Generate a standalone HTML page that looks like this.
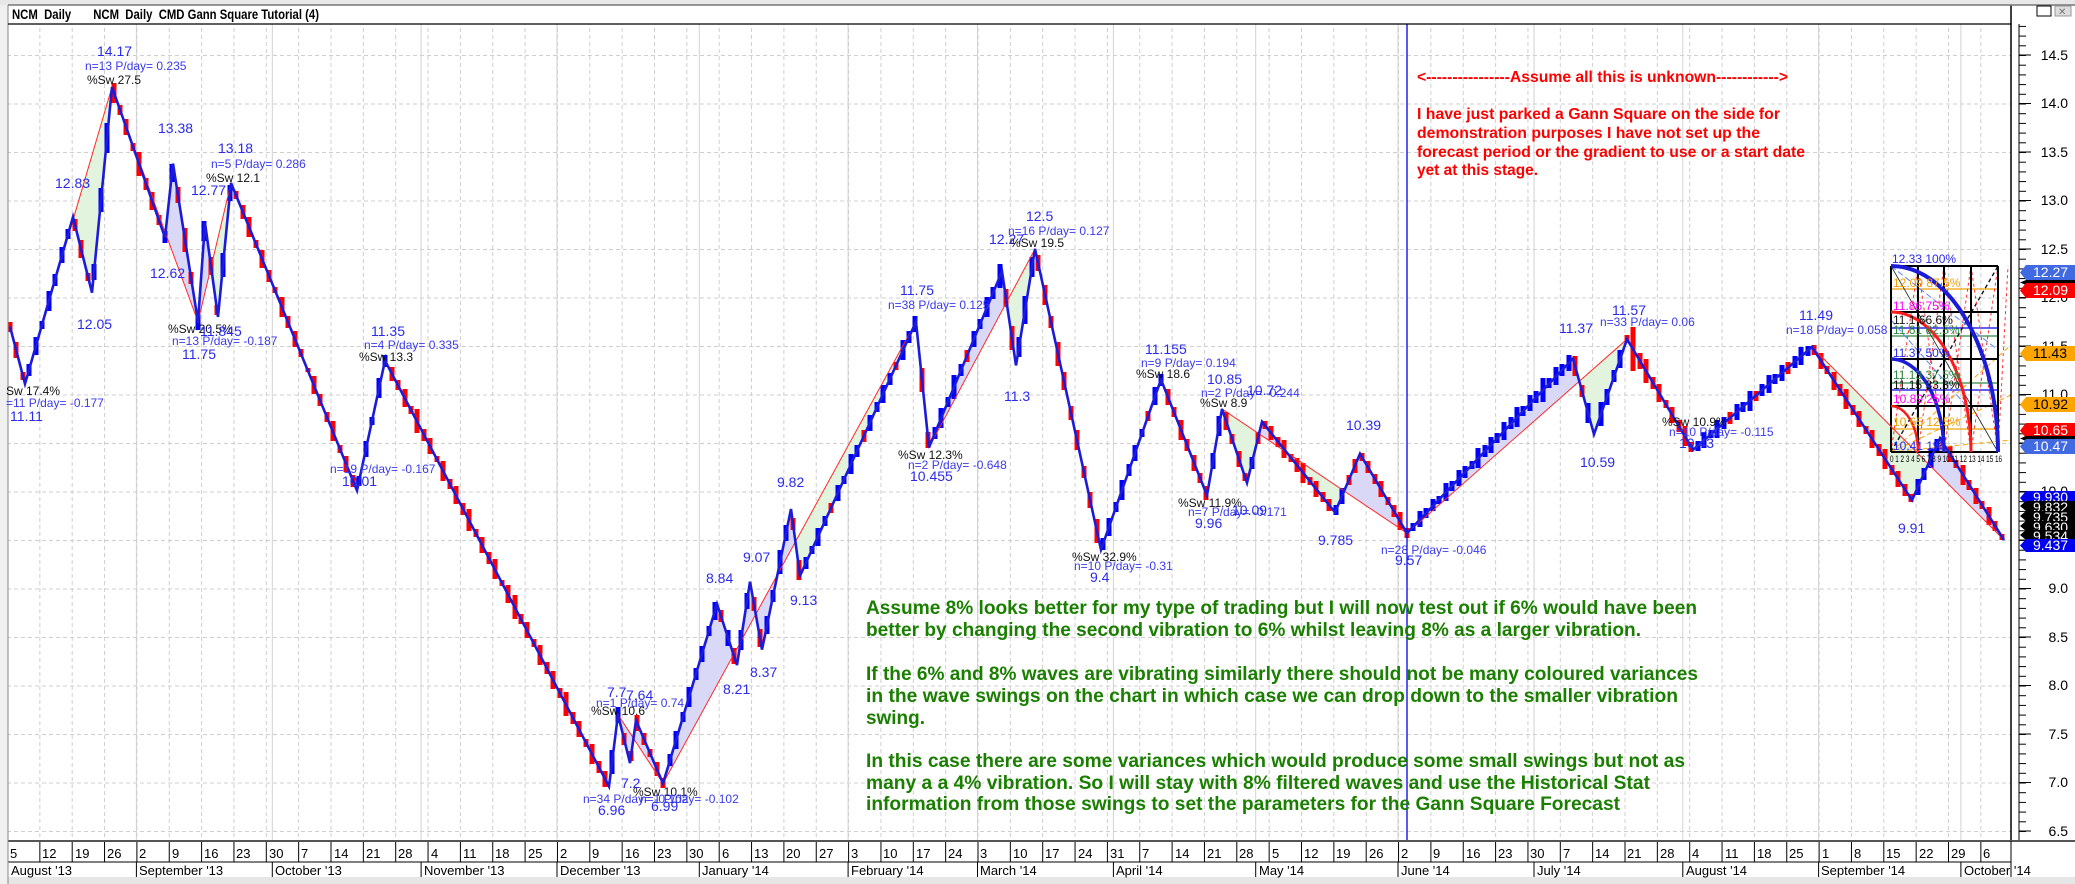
<!DOCTYPE html>
<html><head><meta charset="utf-8"><style>
html,body{margin:0;padding:0;background:#fff;}
svg{display:block;font-family:"Liberation Sans",sans-serif;}
.pl{fill:#2a2aee;font-size:14px;}
.nl{fill:#3a3aee;font-size:12px;}
.sl{fill:#111;font-size:12px;}
.ax{fill:#000;font-size:14px;}
.rt{fill:#ff0000;font-size:16px;font-weight:bold;}
.gt{fill:#1a7f00;font-size:19px;font-weight:bold;}
.gs{font-size:12px;}
.dt{font-size:13px;fill:#000;}
</style></head><body>
<svg width="2075" height="884" viewBox="0 0 2075 884" xmlns="http://www.w3.org/2000/svg">
<defs>
<pattern id="hg" patternUnits="userSpaceOnUse" width="7" height="48.5" patternTransform="translate(0,55)"><rect x="0" y="0" width="4" height="1" fill="#cfcfcf"/></pattern>
<pattern id="vg" patternUnits="userSpaceOnUse" width="32.35" height="7" patternTransform="translate(7,0)"><rect x="0" y="0" width="1" height="4" fill="#cfcfcf"/></pattern>
<pattern id="wt" patternUnits="userSpaceOnUse" width="32.35" height="30" patternTransform="translate(7,0)"><rect x="0" y="0" width="1" height="30" fill="#000"/></pattern>
<pattern id="mt" patternUnits="userSpaceOnUse" width="20" height="9.7" patternTransform="translate(0,55)"><rect x="0" y="0" width="20" height="1" fill="#000"/></pattern>
</defs>
<rect width="2075" height="884" fill="#fff"/>
<rect x="0" y="0" width="2075" height="5" fill="#e8e8e8"/>
<!-- grid -->
<rect x="8" y="24" width="2003" height="817" fill="url(#hg)"/>
<rect x="36" y="24" width="1975" height="817" fill="url(#vg)"/>
<g stroke="#d2d2d2" stroke-width="1">
<line x1="136.4" y1="24" x2="136.4" y2="841"/><line x1="272.3" y1="24" x2="272.3" y2="841"/><line x1="421.1" y1="24" x2="421.1" y2="841"/><line x1="557" y1="24" x2="557" y2="841"/><line x1="699.3" y1="24" x2="699.3" y2="841"/><line x1="848.1" y1="24" x2="848.1" y2="841"/><line x1="977.5" y1="24" x2="977.5" y2="841"/><line x1="1113.4" y1="24" x2="1113.4" y2="841"/><line x1="1255.7" y1="24" x2="1255.7" y2="841"/><line x1="1398" y1="24" x2="1398" y2="841"/><line x1="1534" y1="24" x2="1534" y2="841"/><line x1="1682.8" y1="24" x2="1682.8" y2="841"/><line x1="1818.6" y1="24" x2="1818.6" y2="841"/><line x1="1960.9" y1="24" x2="1960.9" y2="841"/>
</g>
<!-- fills -->
<g>
<polygon points="73,217 92,292.7 112,87" fill="#e2f4de"/>
<polygon points="112,87 165,237.4 173,163.6 198,321.8" fill="#d9d9f7"/>
<polygon points="198,321.8 205,222.8 211,267" fill="#d9d9f7"/>
<polygon points="211,267 218,316.9 231,183" fill="#e2f4de"/>
<polygon points="618,714.6 630,763.1 636,720.4 663,783.5" fill="#d9d9f7"/>
<polygon points="663,783.5 717,604 737,665.1 750,581.7 762,649.6 791,509 800,575.9 916,321.8" fill="#d9d9f7"/>
<polygon points="795,543 800,575.9 916,321.8" fill="#e2f4de"/>
<polygon points="929,447.4 1002,271.3 1006.6,302.2" fill="#d9d9f7"/>
<polygon points="1006.6,302.2 1016,365.4 1035,249" fill="#e2f4de"/>
<polygon points="1222,409 1247,482.8 1259,433.9" fill="#e2f4de"/>
<polygon points="1259,433.9 1262,421.7 1286.7,452.4" fill="#d9d9f7"/>
<polygon points="1286.7,452.4 1335,512.4 1344.1,491" fill="#e2f4de"/>
<polygon points="1344.1,491 1360,453.7 1407,533.2" fill="#d9d9f7"/>
<polygon points="1407,533.2 1573,358.6 1579.3,381.3" fill="#d9d9f7"/>
<polygon points="1579.3,381.3 1594,434.3 1627,339.2" fill="#e2f4de"/>
<polygon points="1812,347 1912,500.2 1928.4,464" fill="#e2f4de"/>
<polygon points="1928.4,464 1940,438.2 2004,540" fill="#d9d9f7"/>
</g>
<!-- candles -->
<path fill="none" stroke="#ff0000" stroke-width="5" d="M10 322V332M16 342V358M23 372V380M75 219V231M81 240V258M88 273V281M114 83V103M120 105V115M126 119V135M133 143V151M139 152V176M146 178V190M152 192V210M159 215V225M178 187V203M185 228V252M191 272V284M211 257V275M217 305V315M236 191V199M243 205V219M249 217V237M256 240V248M262 250V268M269 270V282M275 287V293M282 297V317M288 316V328M295 331V347M301 349V357M308 368V372M314 376V394M320 394V406M327 412V422M333 421V441M340 445V453M346 456V472M353 475V487M392 367V381M398 380V390M405 389V407M411 406V414M417 409V433M424 429V441M430 438V454M437 456V462M443 461V481M450 479V489M456 486V504M463 503V515M469 509V531M476 529V537M482 537V553M489 552V564M495 559V579M502 580V586M508 585V603M515 595V619M521 614V624M527 622V638M534 639V647M540 645V665M547 662V674M553 671V689M560 688V698M566 692V716M573 712V724M579 721V737M586 739V747M592 744V764M599 761V773M605 771V787M624 733V745M631 751V761M637 715V731M644 733V745M650 749V757M657 762V776M663 778V788M721 610V622M734 648V664M754 597V611M760 629V647M793 518V530M799 560V580M831 503V513M864 430V442M896 362V370M922 368V392M928 432V448M967 350V362M1006 289V307M1012 326V350M1038 255V271M1045 285V305M1051 316V328M1058 342V366M1064 372V390M1071 406V420M1077 430V450M1084 466V478M1090 492V508M1097 519V543M1148 411V421M1168 389V405M1174 407V417M1181 420V440M1187 439V451M1194 455V471M1200 473V483M1206 486V500M1226 412V430M1232 434V444M1239 451V467M1245 473V481M1258 432V444M1265 421V429M1271 426V440M1278 437V447M1284 440V458M1291 454V462M1297 458V472M1303 463V483M1310 477V485M1316 481V497M1323 492V502M1329 499V511M1349 475V485M1355 459V473M1362 453V461M1368 461V473M1375 474V484M1381 481V497M1388 497V505M1394 505V517M1400 512V530M1407 528V538M1575 356V376M1582 385V397M1627 335V343M1633 327V371M1640 353V369M1646 359V383M1653 377V389M1659 384V402M1666 400V408M1672 407V423M1679 420V432M1685 426V446M1691 442V452M1730 412V424M1756 391V401M1788 362V374M1814 345V355M1821 353V369M1827 366V374M1834 372V390M1840 384V396M1846 389V409M1853 405V415M1859 411V427M1866 426V434M1872 430V448M1879 444V456M1885 449V469M1892 465V475M1898 471V487M1905 484V496M1911 494V502M1943 437V449M1950 446V462M1956 460V468M1963 465V485M1969 480V490M1976 488V504M1982 501V509M1989 507V525M1995 521V531M2002 534V540"/>
<path fill="none" stroke="#0000ff" stroke-width="5" d="M29 364V376M36 337V355M42 321V329M49 291V311M55 274V286M62 247V263M68 229V239M94 264V280M101 188V212M107 123V153M165 231V243M172 164V182M198 314V330M204 221V241M223 253V277M230 185V201M359 476V486M366 441V457M372 417V425M379 378V398M385 355V367M612 750V774M618 707V723M670 754V766M676 731V749M683 712V722M689 687V707M696 668V680M702 646V662M709 626V636M715 602V620M728 630V646M741 630V650M747 593V609M767 616V634M773 590V602M780 550V574M786 525V541M806 557V569M812 546V554M818 528V546M825 516V526M838 485V501M844 476V484M851 454V474M857 445V457M870 415V431M877 402V412M883 385V403M890 373V385M903 340V360M909 331V343M915 316V332M935 427V439M941 408V428M948 397V407M954 375V399M961 364V376M974 331V347M980 319V329M987 297V317M993 287V299M1000 264V288M1019 337V357M1025 296V324M1032 257V277M1103 538V550M1109 518V536M1116 502V512M1122 480V500M1129 464V476M1135 445V461M1142 429V437M1155 387V405M1161 374V386M1213 453V469M1219 416V436M1252 457V469M1336 505V515M1342 488V504M1413 523V531M1420 511V527M1426 508V518M1433 499V511M1439 496V504M1446 483V501M1452 481V491M1459 470V486M1465 466V478M1472 461V469M1478 448V468M1485 445V457M1491 437V453M1497 433V443M1504 422V440M1511 417V429M1517 407V427M1523 406V416M1530 395V411M1536 391V403M1543 378V402M1549 378V388M1556 367V385M1562 364V376M1569 355V371M1588 403V423M1601 402V426M1607 389V405M1614 370V382M1620 350V368M1698 441V451M1704 432V448M1711 430V438M1717 420V438M1724 417V429M1737 404V420M1743 402V412M1750 391V411M1762 384V396M1769 375V393M1775 374V384M1782 365V381M1795 356V368M1801 347V365M1808 346V356M1918 479V495M1924 468V480M1931 448V468M1937 439V451"/>
<line x1="1407" y1="24" x2="1407" y2="841" stroke="#0000ee" stroke-width="1.3"/>
<!-- gann -->
<g>
<g stroke-width="1.2">
<line x1="1891" x2="1998" y1="289" y2="289" stroke="#f0a000"/><line x1="1891" x2="1998" y1="328" y2="328" stroke="#0000ee"/><line x1="1891" x2="1998" y1="336" y2="336" stroke="#2a8a40"/><line x1="1891" x2="1998" y1="383" y2="383" stroke="#2a8a40"/><line x1="1891" x2="1998" y1="390" y2="390" stroke="#0000ee"/><line x1="1891" x2="1998" y1="429" y2="429" stroke="#f0a000"/>
</g>
<line x1="1891" y1="266" x2="1998" y2="452" stroke="#222" stroke-width="0.8"/>
<line x1="1891" y1="452" x2="1998" y2="266" stroke="#111" stroke-width="1.4" stroke-dasharray="4,3"/>
<g stroke="#ff3030" stroke-dasharray="3,3"><line x1="1891" y1="452" x2="1918" y2="266"/><line x1="1918" y1="452" x2="1944" y2="266"/><line x1="1944" y1="452" x2="1971" y2="266"/><line x1="1971" y1="452" x2="1998" y2="266"/><line x1="1918" y1="266" x2="1944" y2="452"/><line x1="1944" y1="266" x2="1971" y2="452"/><line x1="1971" y1="266" x2="1998" y2="452"/><line x1="1998" y1="452" x2="2008" y2="266"/></g>
<g stroke="#ffa500" stroke-dasharray="5,3"><line x1="1891" y1="452" x2="2011" y2="395"/><line x1="1891" y1="452" x2="2011" y2="345"/><line x1="1891" y1="452" x2="2011" y2="440"/></g>
<g stroke="#6080ff" stroke-dasharray="6,3"><line x1="1891" y1="266" x2="1998" y2="350"/><line x1="1891" y1="320" x2="1970" y2="410"/></g>
<g stroke="#000" stroke-width="2"><line x1="1891" x2="1891" y1="266" y2="452"/><line x1="1918" x2="1918" y1="266" y2="452"/><line x1="1944" x2="1944" y1="266" y2="452"/><line x1="1971" x2="1971" y1="266" y2="452"/><line x1="1998" x2="1998" y1="266" y2="452"/>
<line x1="1891" x2="1998" y1="266" y2="266"/><line x1="1891" x2="1998" y1="312" y2="312"/><line x1="1891" x2="1998" y1="359" y2="359"/><line x1="1891" x2="1998" y1="406" y2="406"/><line x1="1891" x2="1998" y1="452" y2="452"/></g>
<path d="M1891 266 A107 186 0 0 1 1998 452" fill="none" stroke="#1c1cd8" stroke-width="4"/>
<path d="M1891 312 A80 140 0 0 1 1971 452" fill="none" stroke="#ff1a1a" stroke-width="3"/>
<path d="M1891 359 A53 93 0 0 1 1944 452" fill="none" stroke="#1c1cd8" stroke-width="3.5"/>
<path d="M1891 406 A27 46 0 0 1 1918 452" fill="none" stroke="#ff1a1a" stroke-width="2.5"/>
</g>
<!-- swing lines -->
<polyline fill="none" stroke="#ff2a2a" stroke-width="1" points="10,326.6 25,383.8 112,87 198,321.8 231,183 357,490.5 385,360.6 609,786.4 618,714.6 663,783.5 916,321.8 929,447.4 1035,249 1101,549.7 1161,379.5 1207,495.4 1222,409 1407,533.2 1627,339.2 1693,449.8 1812,347 2004,540"/>
<polyline fill="none" stroke="#1c1cd8" stroke-width="2.6" points="10,326.6 25,383.8 73,217 92,292.7 112,87 165,237.4 173,163.6 198,321.8 205,222.8 218,316.9 231,183 357,490.5 385,360.6 609,786.4 618,714.6 630,763.1 636,720.4 663,783.5 717,604 737,665.1 750,581.7 762,649.6 791,509 800,575.9 916,321.8 929,447.4 1002,271.3 1016,365.4 1035,249 1101,549.7 1161,379.5 1207,495.4 1222,409 1247,482.8 1262,421.7 1335,512.4 1360,453.7 1407,533.2 1573,358.6 1594,434.3 1627,339.2 1693,449.8 1812,347 1912,500.2 1940,438.2 2004,540"/>
<!-- price axis -->
<rect x="2011" y="5" width="64" height="836" fill="#fff"/>
<line x1="2011" y1="5" x2="2011" y2="841" stroke="#000" stroke-width="1.5"/>
<line x1="2019" y1="24" x2="2019" y2="841" stroke="#000"/>
<rect x="2019" y="24" width="7" height="817" fill="url(#mt)"/>
<g stroke="#000"><line x1="2019" x2="2031" y1="55" y2="55"/><line x1="2019" x2="2031" y1="103.5" y2="103.5"/><line x1="2019" x2="2031" y1="152" y2="152"/><line x1="2019" x2="2031" y1="200.5" y2="200.5"/><line x1="2019" x2="2031" y1="249" y2="249"/><line x1="2019" x2="2031" y1="297.5" y2="297.5"/><line x1="2019" x2="2031" y1="346" y2="346"/><line x1="2019" x2="2031" y1="394.5" y2="394.5"/><line x1="2019" x2="2031" y1="443" y2="443"/><line x1="2019" x2="2031" y1="491.5" y2="491.5"/><line x1="2019" x2="2031" y1="540" y2="540"/><line x1="2019" x2="2031" y1="588.5" y2="588.5"/><line x1="2019" x2="2031" y1="637" y2="637"/><line x1="2019" x2="2031" y1="685.5" y2="685.5"/><line x1="2019" x2="2031" y1="734" y2="734"/><line x1="2019" x2="2031" y1="782.5" y2="782.5"/><line x1="2019" x2="2031" y1="831" y2="831"/></g>
<g class="ax" text-anchor="end">
<text x="2068" y="60">14.5</text><text x="2068" y="108">14.0</text><text x="2068" y="157">13.5</text><text x="2068" y="205">13.0</text><text x="2068" y="254">12.5</text><text x="2068" y="302">12.0</text><text x="2068" y="351">11.5</text><text x="2068" y="399">11.0</text><text x="2068" y="448">10.5</text><text x="2068" y="496">10.0</text><text x="2068" y="545">9.5</text><text x="2068" y="593">9.0</text><text x="2068" y="642">8.5</text><text x="2068" y="690">8.0</text><text x="2068" y="739">7.5</text><text x="2068" y="787">7.0</text><text x="2068" y="836">6.5</text>
</g>
<!-- price tags -->
<g style="font-size:14px">
<path d="M2026 265 h49 v15 h-49 l-6 -7.5z" fill="#4169e1"/><text x="2033" y="277" fill="#fff">12.27</text>
<path d="M2026 280 h49 v5 h-49 l-6 -2.5z" fill="#000"/>
<path d="M2026 283 h49 v15 h-49 l-6 -7.5z" fill="#ff0000"/><text x="2033" y="295" fill="#fff">12.09</text>
<path d="M2026 346 h49 v15 h-49 l-6 -7.5z" fill="#ffa500"/><text x="2033" y="358" fill="#000">11.43</text>
<path d="M2026 397 h49 v15 h-49 l-6 -7.5z" fill="#ffa500"/><text x="2033" y="409" fill="#000">10.92</text>
<path d="M2026 423 h49 v15 h-49 l-6 -7.5z" fill="#ff0000"/><text x="2033" y="435" fill="#fff">10.65</text>
<path d="M2026 436 h49 v5 h-49 l-6 -2.5z" fill="#000"/>
<path d="M2026 439 h49 v15 h-49 l-6 -7.5z" fill="#4169e1"/><text x="2033" y="451" fill="#fff">10.47</text>
<path d="M2026 491 h49 v14 h-49 l-6 -7z" fill="#0000ee"/><text x="2033" y="502" fill="#fff">9.930</text>
<path d="M2026 501 h49 v10 h-49 l-6 -5z" fill="#000"/><text x="2033" y="512" fill="#fff">9.832</text>
<path d="M2026 511 h49 v10 h-49 l-6 -5z" fill="#000"/><text x="2033" y="522" fill="#fff">9.735</text>
<path d="M2026 521 h49 v10 h-49 l-6 -5z" fill="#000"/><text x="2033" y="532" fill="#fff">9.630</text>
<path d="M2026 530 h49 v10 h-49 l-6 -5z" fill="#000"/><text x="2033" y="541" fill="#fff">9.534</text>
<path d="M2026 539 h49 v13 h-49 l-6 -6.5z" fill="#0000ee"/><text x="2033" y="550" fill="#fff">9.437</text>
</g>
<!-- date axis -->
<rect x="0" y="841" width="2075" height="43" fill="#fff"/>
<line x1="8" x2="2075" y1="841" y2="841" stroke="#555" stroke-width="2"/>
<rect x="36" y="842" width="1975" height="20" fill="url(#wt)"/>
<line x1="8" x2="2011" y1="862" y2="862" stroke="#000"/>
<line x1="2011" x2="2011" y1="841" y2="877" stroke="#000"/>
<g stroke="#000"><line x1="136.4" x2="136.4" y1="862" y2="877"/><line x1="272.3" x2="272.3" y1="862" y2="877"/><line x1="421.1" x2="421.1" y1="862" y2="877"/><line x1="557" x2="557" y1="862" y2="877"/><line x1="699.3" x2="699.3" y1="862" y2="877"/><line x1="848.1" x2="848.1" y1="862" y2="877"/><line x1="977.5" x2="977.5" y1="862" y2="877"/><line x1="1113.4" x2="1113.4" y1="862" y2="877"/><line x1="1255.7" x2="1255.7" y1="862" y2="877"/><line x1="1398" x2="1398" y1="862" y2="877"/><line x1="1534" x2="1534" y1="862" y2="877"/><line x1="1682.8" x2="1682.8" y1="862" y2="877"/><line x1="1818.6" x2="1818.6" y1="862" y2="877"/><line x1="1960.9" x2="1960.9" y1="862" y2="877"/></g>
<rect x="0" y="877" width="2075" height="7" fill="#e6e6e6"/>
<g class="dt">
<text x="10" y="858">5</text><text x="42" y="858">12</text><text x="75" y="858">19</text><text x="107" y="858">26</text><text x="139" y="858">2</text><text x="172" y="858">9</text><text x="204" y="858">16</text><text x="236" y="858">23</text><text x="269" y="858">30</text><text x="301" y="858">7</text><text x="334" y="858">14</text><text x="366" y="858">21</text><text x="398" y="858">28</text><text x="431" y="858">4</text><text x="463" y="858">11</text><text x="495" y="858">18</text><text x="528" y="858">25</text><text x="560" y="858">2</text><text x="592" y="858">9</text><text x="625" y="858">16</text><text x="657" y="858">23</text><text x="689" y="858">30</text><text x="722" y="858">6</text><text x="754" y="858">13</text><text x="786" y="858">20</text><text x="819" y="858">27</text><text x="851" y="858">3</text><text x="883" y="858">10</text><text x="916" y="858">17</text><text x="948" y="858">24</text><text x="980" y="858">3</text><text x="1013" y="858">10</text><text x="1045" y="858">17</text><text x="1078" y="858">24</text><text x="1110" y="858">31</text><text x="1142" y="858">7</text><text x="1175" y="858">14</text><text x="1207" y="858">21</text><text x="1239" y="858">28</text><text x="1272" y="858">5</text><text x="1304" y="858">12</text><text x="1336" y="858">19</text><text x="1369" y="858">26</text><text x="1401" y="858">2</text><text x="1433" y="858">9</text><text x="1466" y="858">16</text><text x="1498" y="858">23</text><text x="1530" y="858">30</text><text x="1563" y="858">7</text><text x="1595" y="858">14</text><text x="1627" y="858">21</text><text x="1660" y="858">28</text><text x="1692" y="858">4</text><text x="1725" y="858">11</text><text x="1757" y="858">18</text><text x="1789" y="858">25</text><text x="1822" y="858">1</text><text x="1854" y="858">8</text><text x="1886" y="858">15</text><text x="1919" y="858">22</text><text x="1951" y="858">29</text><text x="1983" y="858">6</text>
<text x="11" y="875">August '13</text><text x="139" y="875">September '13</text><text x="275" y="875">October '13</text><text x="424" y="875">November '13</text><text x="560" y="875">December '13</text><text x="702" y="875">January '14</text><text x="851" y="875">February '14</text><text x="980" y="875">March '14</text><text x="1116" y="875">April '14</text><text x="1259" y="875">May '14</text><text x="1401" y="875">June '14</text><text x="1537" y="875">July '14</text><text x="1686" y="875">August '14</text><text x="1821" y="875">September '14</text><text x="1964" y="875">October '14</text>
</g>
<!-- window / title -->
<rect x="0" y="5" width="8" height="879" fill="#f0f0f0"/>
<line x1="8" y1="5" x2="8" y2="884" stroke="#888"/>
<line x1="8" y1="5" x2="2075" y2="5" stroke="#777" stroke-width="1.5"/>
<line x1="8" y1="24" x2="2011" y2="24" stroke="#000" stroke-width="1.2"/>
<text x="12" y="19" style="font-size:14px;font-weight:bold;white-space:pre" xml:space="preserve" textLength="307" lengthAdjust="spacingAndGlyphs">NCM  Daily       NCM  Daily  CMD Gann Square Tutorial (4)</text>
<rect x="2037" y="6" width="14" height="10" fill="#fff" stroke="#000"/>
<rect x="2055" y="6" width="16" height="10" fill="#ddd" stroke="#999"/>
<text x="2058" y="15" style="font-size:10px;fill:#777">✕</text>
<!-- red text -->
<text class="rt" x="1417" y="82" textLength="371" lengthAdjust="spacingAndGlyphs">&lt;----------------Assume all this is unknown------------&gt;</text>
<text class="rt" x="1417" y="119" textLength="363" lengthAdjust="spacingAndGlyphs">I have just parked a Gann Square on the side for</text>
<text class="rt" x="1417" y="138" textLength="343" lengthAdjust="spacingAndGlyphs">demonstration purposes I have not set up the</text>
<text class="rt" x="1417" y="157" textLength="388" lengthAdjust="spacingAndGlyphs">forecast period or the gradient to use or a start date</text>
<text class="rt" x="1417" y="175" textLength="121" lengthAdjust="spacingAndGlyphs">yet at this stage.</text>
<!-- green text -->
<g class="gt">
<text x="866" y="614" textLength="831" lengthAdjust="spacingAndGlyphs">Assume 8% looks better for my type of trading but I will now test out if 6% would have been</text>
<text x="866" y="636" textLength="775" lengthAdjust="spacingAndGlyphs">better by changing the second vibration to 6% whilst leaving 8% as a larger vibration.</text>
<text x="866" y="680" textLength="832" lengthAdjust="spacingAndGlyphs">If the 6% and 8% waves are vibrating similarly there should not be many coloured variances</text>
<text x="866" y="702" textLength="812" lengthAdjust="spacingAndGlyphs">in the wave swings on the chart  in which case we can drop down to the smaller vibration</text>
<text x="866" y="724" textLength="59" lengthAdjust="spacingAndGlyphs">swing.</text>
<text x="866" y="767" textLength="819" lengthAdjust="spacingAndGlyphs">In this case there are some variances which would produce some small swings but not as</text>
<text x="866" y="789" textLength="784" lengthAdjust="spacingAndGlyphs">many a a 4% vibration.  So I will stay with 8% filtered waves and use the Historical Stat</text>
<text x="866" y="810" textLength="754" lengthAdjust="spacingAndGlyphs">information from those swings to set the parameters for the Gann Square Forecast</text>
</g>
<!-- swing labels -->
<g>
<text class="sl" x="6" y="395">Sw 17.4%</text>
<text class="nl" x="6" y="407">=11 P/day= -0.177</text>
<text class="pl" x="10" y="421">11.11</text>
<text class="pl" x="55" y="188">12.83</text>
<text class="pl" x="77" y="329">12.05</text>
<text class="pl" x="97" y="56">14.17</text>
<text class="nl" x="85" y="70">n=13 P/day= 0.235</text>
<text class="sl" x="87" y="84">%Sw 27.5</text>
<text class="pl" x="158" y="133">13.38</text>
<text class="pl" x="218" y="153">13.18</text>
<text class="nl" x="211" y="168">n=5 P/day= 0.286</text>
<text class="sl" x="206" y="182">%Sw 12.1</text>
<text class="pl" x="191" y="195">12.77</text>
<text class="pl" x="150" y="278">12.62</text>
<text class="sl" x="168" y="333">%Sw 20.5%</text>
<text class="nl" x="172" y="345">n=13 P/day= -0.187</text>
<text class="pl" x="200" y="336">11.845</text>
<text class="pl" x="182" y="359">11.75</text>
<text class="pl" x="371" y="336">11.35</text>
<text class="nl" x="364" y="349">n=4 P/day= 0.335</text>
<text class="sl" x="359" y="361">%Sw 13.3</text>
<text class="nl" x="330" y="473">n=19 P/day= -0.167</text>
<text class="pl" x="342" y="486">10.01</text>
<text class="pl" x="607" y="697">7.7</text>
<text class="pl" x="626" y="700">7.64</text>
<text class="nl" x="596" y="707">n=1 P/day= 0.74</text>
<text class="sl" x="591" y="715">%Sw 10.6</text>
<text class="pl" x="621" y="788">7.2</text>
<text class="sl" x="633" y="796">%Sw 10.1%</text>
<text class="nl" x="583" y="803">n=34 P/day= -0.102</text>
<text class="nl" x="640" y="803">n=1 P/day= -0.102</text>
<text class="pl" x="598" y="815">6.96</text>
<text class="pl" x="651" y="811">6.99</text>
<text class="pl" x="706" y="583">8.84</text>
<text class="pl" x="723" y="694">8.21</text>
<text class="pl" x="750" y="677">8.37</text>
<text class="pl" x="743" y="562">9.07</text>
<text class="pl" x="777" y="487">9.82</text>
<text class="pl" x="790" y="605">9.13</text>
<text class="pl" x="900" y="295">11.75</text>
<text class="nl" x="888" y="309">n=38 P/day= 0.125</text>
<text class="pl" x="1026" y="221">12.5</text>
<text class="nl" x="1008" y="235">n=16 P/day= 0.127</text>
<text class="pl" x="989" y="244">12.27</text>
<text class="sl" x="1010" y="247">%Sw 19.5</text>
<text class="pl" x="1004" y="401">11.3</text>
<text class="sl" x="898" y="459">%Sw 12.3%</text>
<text class="nl" x="908" y="469">n=2 P/day= -0.648</text>
<text class="pl" x="910" y="481">10.455</text>
<text class="pl" x="1145" y="354">11.155</text>
<text class="nl" x="1141" y="367">n=9 P/day= 0.194</text>
<text class="sl" x="1136" y="378">%Sw 18.6</text>
<text class="pl" x="1207" y="384">10.85</text>
<text class="nl" x="1201" y="397">n=2 P/day= -0.244</text>
<text class="pl" x="1247" y="395">10.72</text>
<text class="sl" x="1200" y="407">%Sw 8.9</text>
<text class="pl" x="1346" y="430">10.39</text>
<text class="sl" x="1178" y="507">%Sw 11.9%</text>
<text class="nl" x="1188" y="516">n=7 P/day= -0.171</text>
<text class="pl" x="1232" y="515">10.09</text>
<text class="pl" x="1195" y="528">9.96</text>
<text class="pl" x="1318" y="545">9.785</text>
<text class="sl" x="1072" y="561">%Sw 32.9%</text>
<text class="nl" x="1074" y="570">n=10 P/day= -0.31</text>
<text class="pl" x="1090" y="582">9.4</text>
<text class="nl" x="1381" y="554">n=28 P/day= -0.046</text>
<text class="pl" x="1395" y="565">9.57</text>
<text class="pl" x="1559" y="333">11.37</text>
<text class="pl" x="1612" y="315">11.57</text>
<text class="nl" x="1600" y="326">n=33 P/day= 0.06</text>
<text class="pl" x="1580" y="467">10.59</text>
<text class="pl" x="1799" y="320">11.49</text>
<text class="nl" x="1786" y="334">n=18 P/day= 0.058</text>
<text class="sl" x="1662" y="426">%Sw 10.9%</text>
<text class="nl" x="1669" y="436">n=10 P/day= -0.115</text>
<text class="pl" x="1679" y="448">10.43</text>
<text class="pl" x="1898" y="533">9.91</text>
</g>
<!-- gann labels -->
<g class="gs">
<text x="1892" y="263" fill="#2a2aee">12.33 100%</text>
<text x="1893" y="287" fill="#f0a000">12.09 87.5%</text>
<text x="1893" y="310" fill="#ff00ff">11.86 75%</text>
<text x="1893" y="324" fill="#111">11.1 66.6%</text>
<text x="1893" y="334" fill="#2a8a40">11.61 62.5%</text>
<text x="1893" y="357" fill="#2a2aee">11.37 50%</text>
<text x="1893" y="379" fill="#2a8a40">11.13 37.5%</text>
<text x="1893" y="389" fill="#111">11.15 33.3%</text>
<text x="1893" y="403" fill="#ff00ff">10.89 25%</text>
<text x="1893" y="426" fill="#f0a000">10.65 12.5%</text>
<text x="1893" y="450" fill="#2a2aee">10.41 1%</text>
<text x="1890" y="462" style="font-size:9px" fill="#000" textLength="112" lengthAdjust="spacingAndGlyphs">0 1 2 3 4 5 6 7 8 9 10 11 12 13 14 15 16</text>
</g>
</svg>
</body></html>
